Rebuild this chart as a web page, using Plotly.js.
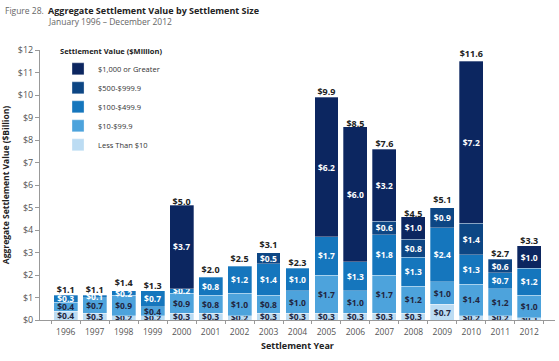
<!DOCTYPE html>
<html>
<head>
<meta charset="utf-8">
<script src="https://cdn.plot.ly/plotly-3.0.1.min.js"></script>
<style>html,body{margin:0;padding:0;background:#fff;}#chart{width:559px;height:361px;}</style>
</head>
<body>
<div id="chart"></div>
<script>
const years = ["1996","1997","1998","1999","2000","2001","2002","2003","2004","2005","2006","2007","2008","2009","2010","2011","2012"];
const lessThan10 = [0.4,0.3,0.2,0.2,0.3,0.3,0.2,0.3,0.3,0.3,0.3,0.3,0.3,0.7,0.2,0.2,0.1];
const from10to99 = [0.4,0.7,0.9,0.4,0.9,0.8,1.0,0.8,1.0,1.7,1.0,1.7,1.2,1.0,1.4,1.2,1.0];
const from100to499 = [0.3,0.1,0.2,0.7,0.2,0.8,1.2,1.4,1.0,1.7,1.3,1.8,1.3,2.4,1.3,0.7,1.2];
const from500to999 = [null,null,null,null,null,null,null,0.5,null,null,null,0.6,0.8,0.9,1.4,0.6,null];
const over1000 = [null,null,null,null,3.7,null,null,null,null,6.2,6.0,3.2,1.0,null,7.2,null,1.0];
const totals = [1.1,1.1,1.4,1.3,5.0,2.0,2.5,3.1,2.3,9.9,8.5,7.6,4.5,5.1,11.6,2.7,3.3];
const seriesNames = ["Less Than $10","$10-$99.9","$100-$499.9","$500-$999.9","$1,000 or Greater"];

const FONT = "Open Sans, Noto Sans, sans-serif";
const colors = ["#bcdcf3","#4da3dc","#1576bd","#0d4684","#0c2660"];
const textColors = ["#22263f","#22263f","#ffffff","#ffffff","#ffffff"];
const seriesData = [lessThan10, from10to99, from100to499, from500to999, over1000];

const traces = seriesData.map((vals, i) => ({
  type: "bar",
  name: seriesNames[i],
  x: years,
  y: vals,
  text: vals.map(v => (v == null ? "" : "$" + v.toFixed(1))),
  textposition: "inside",
  insidetextanchor: "middle",
  constraintext: "none",
  textangle: 0,
  textfont: {family: FONT, size: 8.5, color: textColors[i], weight: 700},
  marker: {color: colors[i], line: {color: "rgba(255,255,255,0.6)", width: 0.5}},
  hoverinfo: "skip"
}));

traces.push({
  type: "scatter",
  mode: "text",
  x: years,
  y: totals,
  text: totals.map(v => "$" + v.toFixed(1)),
  textposition: "top center",
  textfont: {family: FONT, size: 9, color: "#222", weight: 700},
  showlegend: false,
  hoverinfo: "skip",
  cliponaxis: false
});

const layout = {
  width: 559,
  height: 361,
  margin: {l: 40, r: 4, t: 50, b: 41},
  paper_bgcolor: "#fff",
  plot_bgcolor: "#fff",
  barmode: "stack",
  bargap: 0.175,
  font: {family: FONT, size: 9, color: "#555"},
  showlegend: true,
  legend: {
    x: 0.035, y: 1.02, xanchor: "left", yanchor: "top",
    traceorder: "reversed",
    title: {text: "Settlement Value ($Million)", font: {family: FONT, size: 7.5, color: "#222", weight: 700}},
    font: {family: FONT, size: 7.5, color: "#333"},
    itemwidth: 30,
    bgcolor: "rgba(0,0,0,0)"
  },
  xaxis: {
    type: "category",
    showline: true, linecolor: "#999", linewidth: 1,
    ticks: "outside", tickson: "boundaries", ticklen: 3, tickcolor: "#999",
    tickangle: 0,
    ticklabelstandoff: 4,
    tickfont: {family: FONT, size: 8.5, color: "#555"},
    title: {text: "Settlement Year", font: {family: FONT, size: 9, color: "#222", weight: 700}, standoff: 6},
    showgrid: false, zeroline: false
  },
  yaxis: {
    range: [0, 12],
    dtick: 1,
    tickprefix: "$",
    showline: true, linecolor: "#999", linewidth: 1,
    ticks: "outside", ticklen: 4, tickcolor: "#999",
    tickfont: {family: FONT, size: 9, color: "#555"},
    showgrid: false, zeroline: false,
    title: {text: "Aggregate Settlement Value ($Billion)", font: {family: FONT, size: 8.5, color: "#222", weight: 700}, standoff: 6}
  },
  annotations: [
    {text: "Figure 28.", xref: "paper", yref: "paper", x: -0.071, y: 1.148, xanchor: "left", yanchor: "middle", showarrow: false, font: {family: FONT, size: 8.5, color: "#666"}},
    {text: "<b>Aggregate Settlement Value by Settlement Size</b>", xref: "paper", yref: "paper", x: 0.011, y: 1.148, xanchor: "left", yanchor: "middle", showarrow: false, font: {family: FONT, size: 9, color: "#222"}},
    {text: "January 1996 – December 2012", xref: "paper", yref: "paper", x: 0.011, y: 1.107, xanchor: "left", yanchor: "middle", showarrow: false, font: {family: FONT, size: 8.5, color: "#666"}}
  ]
};

Plotly.newPlot("chart", traces, layout, {displayModeBar: false, staticPlot: true});
</script>
</body>
</html>
